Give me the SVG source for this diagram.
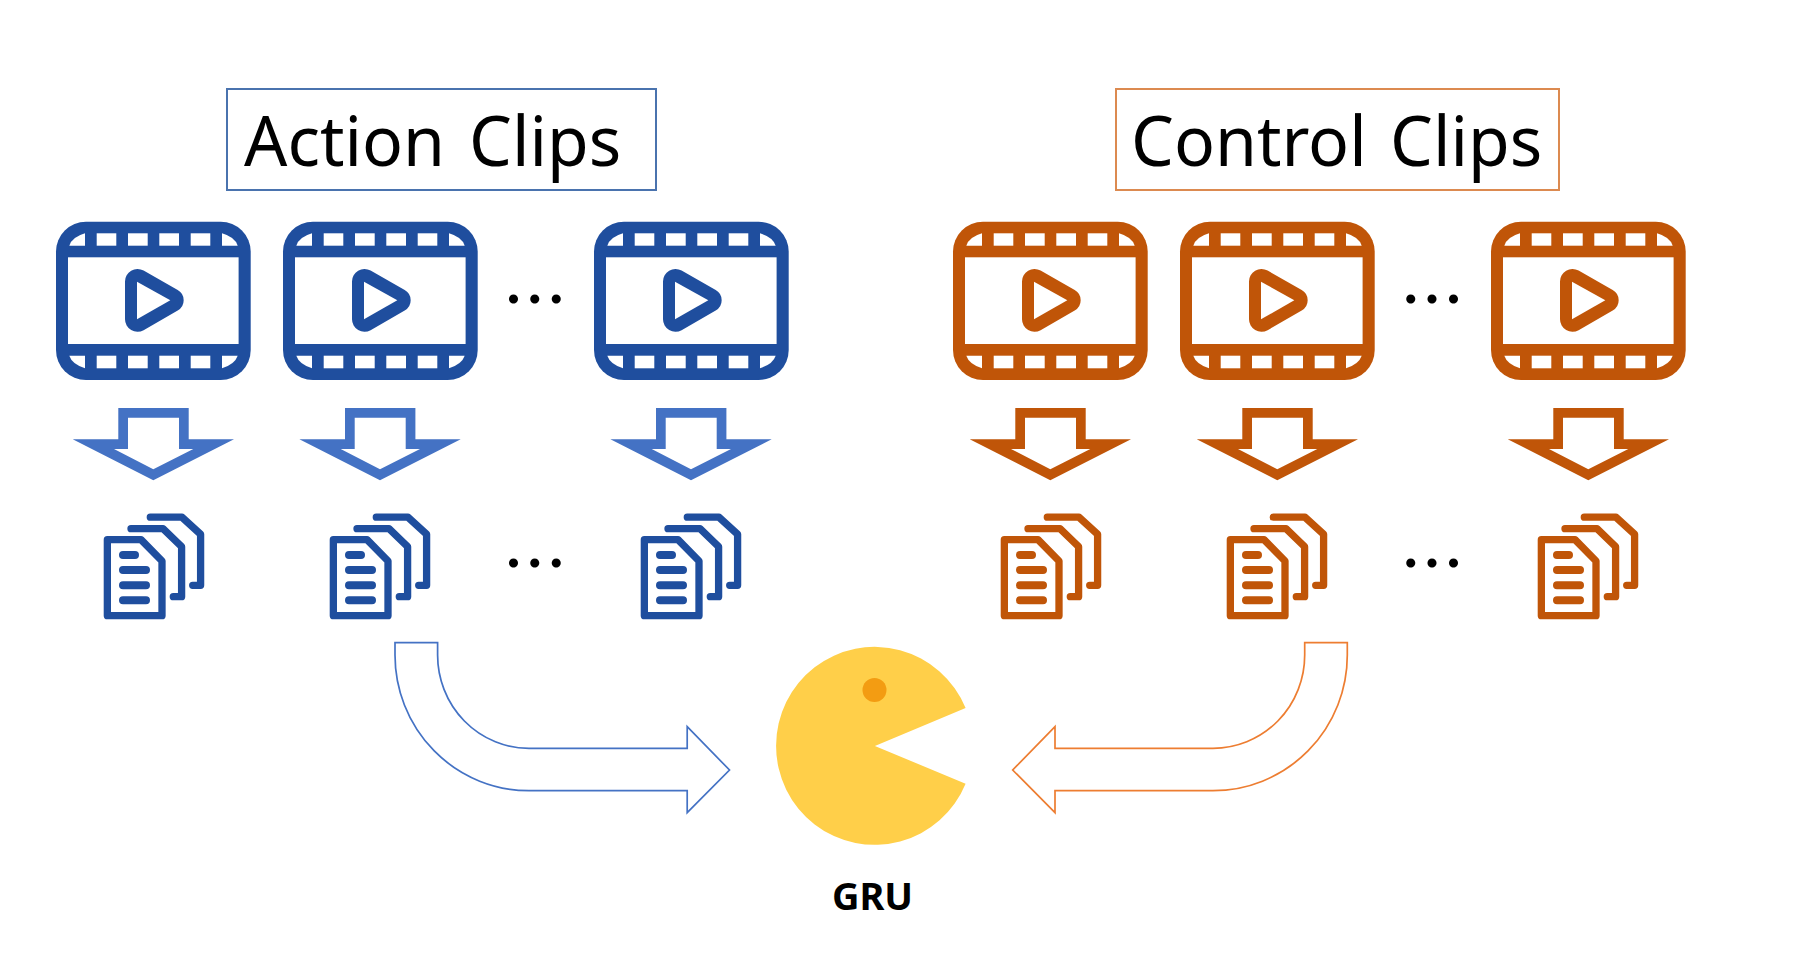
<svg xmlns="http://www.w3.org/2000/svg" xmlns:xlink="http://www.w3.org/1999/xlink" width="1801" height="964" viewBox="0 0 1801 964">
<style>
.box{fill:#fff;stroke-width:2}
.title{font-family:"Noto Sans","Liberation Sans",sans-serif;font-size:70px;fill:#000}
.dots{font-family:Lato,"Noto Sans",sans-serif;font-size:72px;letter-spacing:4.4px;fill:#000;text-anchor:middle}
.gru{font-family:"Noto Sans","Liberation Sans",sans-serif;font-size:38px;font-weight:700;fill:#000;text-anchor:middle}
.blue{color:#1F4E9E}
.orange{color:#C05508}
.doc{fill:none;stroke:currentColor;stroke-width:7.3;stroke-linecap:round;stroke-linejoin:round}
.line{fill:none;stroke:currentColor;stroke-width:8;stroke-linecap:round}
.bend{fill:#fff;stroke-width:1.7;stroke-linejoin:miter}
</style>
<defs>
<g id="film">
<rect x="56" y="221.7" width="194.7" height="158.3" rx="30" fill="currentColor"/>
<rect x="68" y="257.3" width="170.6" height="86.7" fill="#fff"/>
<g fill="#fff">
<path d="M69.3 245.7Q72 237 85 233.3V245.7Z"/><path d="M237.7 245.7Q235 237 222 233.3V245.7Z"/>
<rect x="96.7" y="233.3" width="19.6" height="12.4"/><rect x="128" y="233.3" width="19.7" height="12.4"/><rect x="159.3" y="233.3" width="19.7" height="12.4"/><rect x="190.7" y="233.3" width="19.6" height="12.4"/>
<path d="M69.3 355.7Q72 364 85 368.3V355.7Z"/><path d="M237.7 355.7Q235 364 222 368.3V355.7Z"/>
<rect x="96.7" y="355.7" width="19.6" height="12.6"/><rect x="128" y="355.7" width="19.7" height="12.6"/><rect x="159.3" y="355.7" width="19.7" height="12.6"/><rect x="190.7" y="355.7" width="19.6" height="12.6"/>
</g>
<path fill="currentColor" d="M125 281.5A12.5 12.5 0 0 1 143.6 270.6L177.7 290.1A11.7 11.7 0 0 1 177.7 310.5L143.6 330.2A12.5 12.5 0 0 1 125 319.3Z"/>
<path fill="#fff" d="M137 281.7L170.3 300.3L137 319.3Z"/>
</g>
<g id="doc">
<path class="doc" d="M107.35 539.65H141L162 561V615.65H107.35Z"/>
<path class="doc" d="M131 528.7H163L181.6 546.7V596.7H173.3"/>
<path class="doc" d="M150.3 517.2H182L200.6 534.3V585.3H192.7"/>
<path class="line" d="M123 555H135M123 570H146M123 585.3H146M123 600.3H146"/>
</g>
<path id="down" fill-rule="evenodd" d="M118.3 408H188.7V439.3H234L153.3 480.3L72.7 439.3H118.3ZM128 417.7V449H114L153.3 469.3L193.3 449H179V417.7Z"/>
</defs>
<rect width="1801" height="964" fill="#fff"/>
<g id="action-title">
<rect class="box" x="227" y="89" width="429" height="101" stroke="#4A73AE"/>
<text class="title" transform="translate(244 166) scale(.97 1)" x="0" y="0">Action <tspan x="232">Clips</tspan></text>
</g>
<g id="control-title">
<rect class="box" x="1116" y="89" width="443" height="101" stroke="#DC8A50"/>
<text class="title" transform="translate(1131 165.5) scale(.97 1)" x="0" y="0">Control <tspan x="267">Clips</tspan></text>
</g>
<g id="action-clips" class="blue">
<use id="film-a1" xlink:href="#film"/>
<use id="film-a2" xlink:href="#film" x="227"/>
<use id="film-a3" xlink:href="#film" x="538"/>
<use id="doc-a1" xlink:href="#doc"/>
<use id="doc-a2" xlink:href="#doc" x="226"/>
<use id="doc-a3" xlink:href="#doc" x="537"/>
</g>
<g id="control-clips" class="orange">
<use id="film-c1" xlink:href="#film" x="897"/>
<use id="film-c2" xlink:href="#film" x="1124"/>
<use id="film-c3" xlink:href="#film" x="1435"/>
<use id="doc-c1" xlink:href="#doc" x="897"/>
<use id="doc-c2" xlink:href="#doc" x="1123"/>
<use id="doc-c3" xlink:href="#doc" x="1434"/>
</g>
<g id="ellipses">
<text class="dots" x="537" y="303">...</text>
<text class="dots" x="537" y="567">...</text>
<text class="dots" x="1434.3" y="303">...</text>
<text class="dots" x="1434.3" y="567">...</text>
</g>
<g id="connectors">
<use xlink:href="#down" fill="#4472C4"/>
<use xlink:href="#down" x="226.7" fill="#4472C4"/>
<use xlink:href="#down" x="537.7" fill="#4472C4"/>
<use xlink:href="#down" x="897" fill="#C05508"/>
<use xlink:href="#down" x="1124" fill="#C05508"/>
<use xlink:href="#down" x="1435" fill="#C05508"/>
<path class="bend" stroke="#4472C4" d="M395 642.7H437.6V655A91.4 93.3 0 0 0 529 748.3H687.2V726.7L729.5 770L687.2 812.7V790.7H529A134 135.7 0 0 1 395 655Z"/>
<path class="bend" stroke="#ED7D31" d="M1347.3 642.7H1304.7V655A91.7 93.3 0 0 1 1213 748.3H1055V726.7L1012.7 770L1055 812.7V790.7H1213A134.3 135.7 0 0 0 1347.3 655Z"/>
</g>
<g id="gru">
<path d="M965.6 708A98.5 99 0 1 0 965.6 783.7L874.9 746Z" fill="#FFCF49"/>
<circle cx="874.5" cy="690" r="12" fill="#F39C12"/>
<text class="gru" x="872.5" y="910">GRU</text>
</g>
</svg>
